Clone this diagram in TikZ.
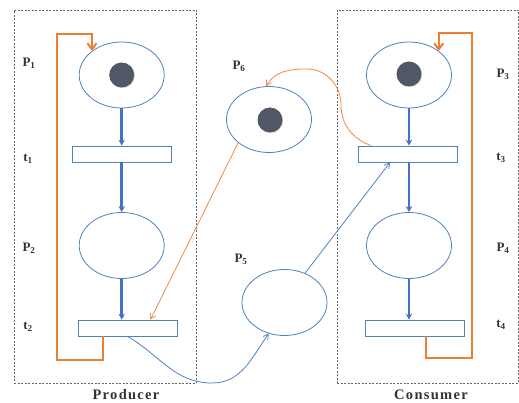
\documentclass[tikz,border=0pt]{standalone}
\usepackage{fontspec}
\setmainfont{Liberation Serif}
\usetikzlibrary{arrows.meta,shapes.geometric,calc,shadows}
\definecolor{pblue}{RGB}{79,129,189}
\definecolor{dblue}{RGB}{68,114,196}
\definecolor{porange}{RGB}{237,125,49}
\definecolor{tok}{RGB}{80,88,104}
\begin{document}
\begin{tikzpicture}[x=1pt,y=-1pt,
  place/.style={ellipse,draw=pblue,line width=0.8pt,minimum width=85pt,minimum height=66pt,inner sep=0pt},
  trans/.style={rectangle,draw=pblue,line width=0.8pt,minimum width=99pt,minimum height=16pt,inner sep=0pt},
  token/.style={circle,fill=tok,minimum size=25pt,inner sep=0pt,drop shadow={opacity=0.25,shadow xshift=0.8pt,shadow yshift=-0.8pt}},
  lbl/.style={font=\bfseries\fontsize{13}{15}\selectfont,text=black!80},
  grp/.style={font=\bfseries\addfontfeature{LetterSpace=9}\fontsize{14.5}{16}\selectfont,text=black!80},
  frame/.style={draw=black!60,dashed,dash pattern=on 2pt off 1.5pt,line width=0.6pt},
  flow/.style={draw=dblue,line width=2.6pt,-{Stealth[length=6pt,width=6.5pt]}},
  thinb/.style={draw=pblue,line width=0.8pt,-{Straight Barb[length=5pt,width=6pt]}},
  thino/.style={draw=porange!90,line width=0.8pt,-{Straight Barb[length=5pt,width=6pt]}},
  loopo/.style={draw=porange,line width=2pt,-{Straight Barb[length=6pt,width=9pt]}}]
\useasboundingbox (0,0) rectangle (519,403);
% frames
\node[frame,minimum width=182pt,minimum height=373pt,inner sep=0pt] (prod) at (105,196.5) {};
\node[frame,minimum width=181pt,minimum height=373pt,inner sep=0pt] (cons) at (427.5,196.5) {};
% producer
\node[place] (P1) at (121.7,75) {};
\node[token] (k1) at (121.7,75) {};
\node[trans] (t1) at (121.7,154) {};
\node[place] (P2) at (121.7,245.5) {};
\node[trans] (t2) at (127.5,328) {};
% consumer
\node[place] (P3) at (409,75) {};
\node[token] (k3) at (409,74) {};
\node[trans] (t3) at (408,154) {};
\node[place] (P4) at (409,245.5) {};
\node[trans] (t4) at (414.5,328) {};
% middle
\node[place] (P6) at (269,119.5) {};
\node[token] (k6) at (270,120) {};
\node[place] (P5) at (284.5,302.5) {};
% labels
\node[lbl] (lP1) at (29,63) {P\textsubscript{1}};
\node[lbl] (lt1) at (28,159) {t\textsubscript{1}};
\node[lbl] (lP2) at (29,248) {P\textsubscript{2}};
\node[lbl] (lt2) at (28,327) {t\textsubscript{2}};
\node[lbl] (lP6) at (239,66) {P\textsubscript{6}};
\node[lbl] (lP5) at (241,259) {P\textsubscript{5}};
\node[lbl] (lP3) at (503,74) {P\textsubscript{3}};
\node[lbl] (lt3) at (501,158) {t\textsubscript{3}};
\node[lbl] (lP4) at (503,248) {P\textsubscript{4}};
\node[lbl] (lt4) at (501,325) {t\textsubscript{4}};
\node[grp] (gp) at (126,395) {Producer};
\node[grp] (gc) at (431,395) {Consumer};
% blue flows
\draw[flow] (P1) -- (t1);
\draw[flow] (t1) -- (P2);
\draw[flow] (P2) -- (P2 |- t2.north);
\draw[flow] (P3) -- (P3 |- t3.north);
\draw[flow] (P3 |- t3.south) -- (P4);
\draw[flow] (P4) -- (P4 |- t4.north);
% orange loops
\draw[loopo] ($(t2.south west)+(25,0)$) |- (57,360) |- (P1.141 |- 0,34) -- (P1.141);
\draw[loopo] ($(t4.south west)+(61,0)$) |- (472,358) |- (P3.39 |- 0,33) -- (P3.39);
% thin arcs
\draw[thinb] (t2.south) to[out=-30,in=180] (212,383) to[out=0,in=-125] (P5.-117);
\draw[thinb] (P5.55) -- ($(t3.south)+(-18,0)$);
\draw[thino] (P6.-143) -- ($(t2.north)+(23,0)$);
\draw[thino] ($(t3.north west)+(13,0)$) to[out=160,in=-90] (341,105) to[out=90,in=0] (307,69) to[out=180,in=60] (P6.95);
\end{tikzpicture}
\end{document}
